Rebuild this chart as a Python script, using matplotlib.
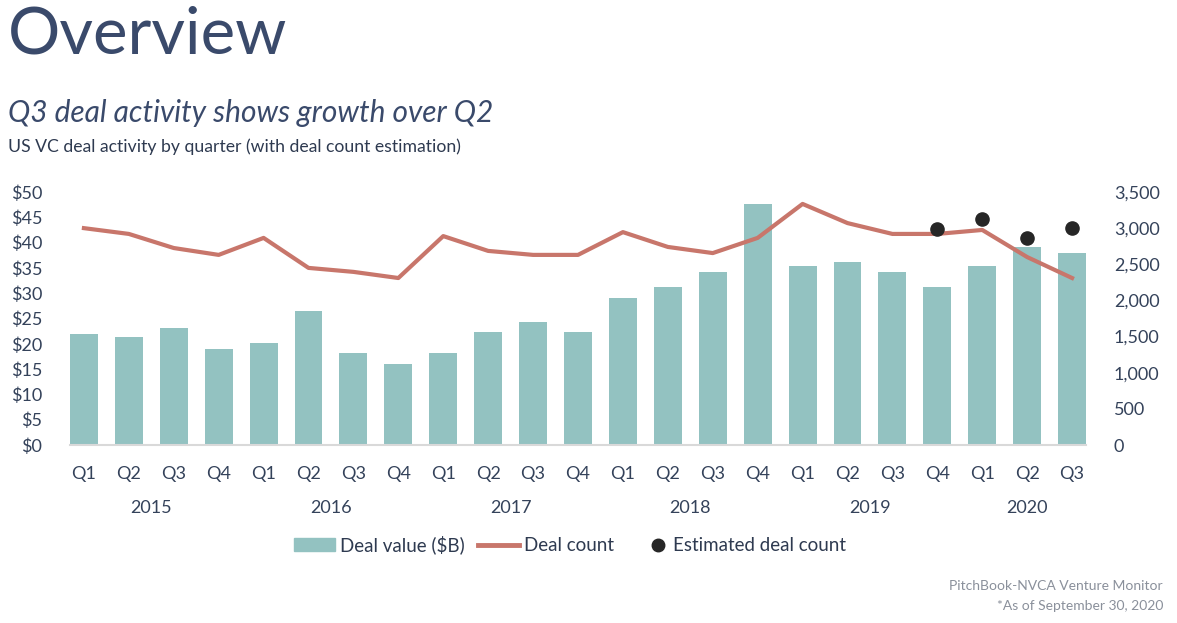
import numpy as np
import matplotlib
matplotlib.use("Agg")
import matplotlib.pyplot as plt
from matplotlib.ticker import FuncFormatter, MultipleLocator
from matplotlib.lines import Line2D
from matplotlib.patches import Patch
from matplotlib.legend_handler import HandlerLine2D

plt.rcParams['font.family'] = ['Lato', 'DejaVu Sans']

# data
years = ['2015', '2016', '2017', '2018', '2019', '2020']
year_pos = [1.5, 5.5, 9.5, 13.5, 17.5, 21]
quarters = ['Q1', 'Q2', 'Q3', 'Q4'] * 5 + ['Q1', 'Q2', 'Q3']
deal_value = [21.9, 21.3, 23.1, 19.0, 20.2, 26.5, 18.2, 16.0, 18.2, 22.3, 24.3, 22.3,
              29.1, 31.2, 34.2, 47.6, 35.4, 36.2, 34.2, 31.2, 35.4, 39.1, 37.9]
deal_count = [3000, 2920, 2725, 2630, 2865, 2450, 2395, 2310, 2890, 2685, 2630, 2630,
              2945, 2740, 2655, 2865, 3335, 3070, 2920, 2920, 2975, 2600, 2310]
est_idx = [19, 20, 21, 22]
est_count = [2985, 3125, 2865, 3000]

bar_col = '#93c2c1'
line_col = '#c8766b'
dot_col = '#262626'
txt_col = '#3a4a6b'
tick_col = '#34425a'

fig = plt.figure(figsize=(11.77, 6.23), dpi=100)
ax = fig.add_axes([70 / 1177, 1 - 445 / 623, 1016 / 1177, 253 / 623])
ax2 = ax.twinx()

x = np.arange(len(deal_value))
ax.bar(x, deal_value, width=0.62, color=bar_col, zorder=2)
ax2.plot(x, deal_count, color=line_col, lw=3, zorder=3)
ax2.scatter(x[est_idx], est_count, s=90, color=dot_col, zorder=4)

ax.set_xlim(-0.31, len(x) - 1 + 0.31)
ax.set_ylim(0, 50)
ax2.set_ylim(0, 3500)
ax.yaxis.set_major_locator(MultipleLocator(5))
ax2.yaxis.set_major_locator(MultipleLocator(500))
ax.yaxis.set_major_formatter(FuncFormatter(lambda v, p: f'${v:.0f}'))
ax2.yaxis.set_major_formatter(FuncFormatter(lambda v, p: f'{v:,.0f}'))

ax.set_xticks(x)
ax.set_xticklabels(quarters)
for a in (ax, ax2):
    for s in ('top', 'left', 'right', 'bottom'):
        a.spines[s].set_visible(False)
ax.spines['bottom'].set_visible(True)
ax.spines['bottom'].set_color('#d9d9d9')
ax.spines['bottom'].set_linewidth(1.5)
ax.tick_params(axis='x', length=0, pad=15, labelsize=13, labelcolor=tick_col)
ax.tick_params(axis='y', length=0, pad=20, labelsize=13, labelcolor=tick_col)
ax2.tick_params(axis='y', length=0, pad=20, labelsize=13, labelcolor=tick_col)

for p, yr in zip(year_pos, years):
    ax.text(p, -0.25, yr, transform=ax.get_xaxis_transform(),
            ha='center', va='center', fontsize=13, color=tick_col)

fig.text(8 / 1177, 1 - 35 / 623, 'Overview', fontsize=47,
         color=txt_col, va='center', ha='left')
fig.text(8 / 1177, 1 - 113 / 623, 'Q3 deal activity shows growth over Q2', fontsize=21.5,
         style='italic', color=txt_col, va='center', ha='left')
fig.text(8 / 1177, 1 - 147 / 623, 'US VC deal activity by quarter (with deal count estimation)',
         fontsize=12.7, color='#2e3a50', va='center', ha='left')
fig.text(1163 / 1177, 1 - 586 / 623, 'PitchBook-NVCA Venture Monitor', fontsize=10,
         color='#8a909b', ha='right', va='center')
fig.text(1163 / 1177, 1 - 606 / 623, '*As of September 30, 2020', fontsize=10,
         color='#8a909b', ha='right', va='center')

est_handle = Line2D([], [], color=dot_col, marker='o', ls='none', markersize=9,
                    label='Estimated deal count')
handles = [Patch(color=bar_col, label='Deal value ($B)'),
           Line2D([], [], color=line_col, lw=3.5, label='Deal count'),
           est_handle]
fig.legend(handles=handles, loc='center', bbox_to_anchor=(570 / 1177, 1 - 545 / 623),
           ncol=3, frameon=False, fontsize=13.5, handlelength=2.2, handletextpad=0.25,
           columnspacing=0.7, labelcolor='#2e3a50',
           handler_map={est_handle: HandlerLine2D(xpad=1.1)})

fig.savefig('out.png', dpi=100)
